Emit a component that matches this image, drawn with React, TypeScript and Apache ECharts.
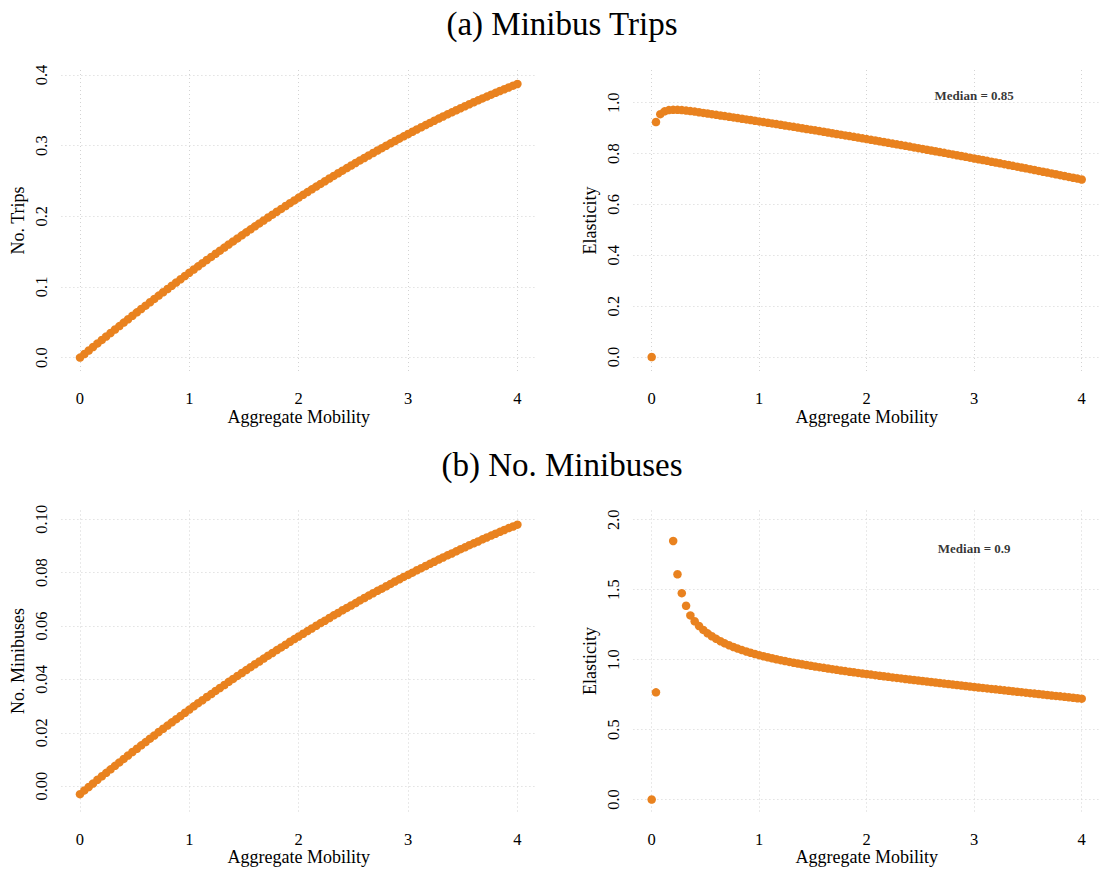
import React, { useEffect, useRef } from "react";
import * as echarts from "echarts";

// aggregate mobility grid (x axis of every panel)
const xValues = [
  0, 0.04, 0.08, 0.12, 0.16, 0.2, 0.24, 0.28, 0.32, 0.36,
  0.4, 0.44, 0.48, 0.52, 0.56, 0.6, 0.64, 0.68, 0.72, 0.76,
  0.8, 0.84, 0.88, 0.92, 0.96, 1.0, 1.04, 1.08, 1.12, 1.16,
  1.2, 1.24, 1.28, 1.32, 1.36, 1.4, 1.44, 1.48, 1.52, 1.56,
  1.6, 1.64, 1.68, 1.72, 1.76, 1.8, 1.84, 1.88, 1.92, 1.96,
  2.0, 2.04, 2.08, 2.12, 2.16, 2.2, 2.24, 2.28, 2.32, 2.36,
  2.4, 2.44, 2.48, 2.52, 2.56, 2.6, 2.64, 2.68, 2.72, 2.76,
  2.8, 2.84, 2.88, 2.92, 2.96, 3.0, 3.04, 3.08, 3.12, 3.16,
  3.2, 3.24, 3.28, 3.32, 3.36, 3.4, 3.44, 3.48, 3.52, 3.56,
  3.6, 3.64, 3.68, 3.72, 3.76, 3.8, 3.84, 3.88, 3.92, 3.96,
  4.0,
];

// (a) left: number of trips
const tripsValues = [
  0, 0.005, 0.01, 0.015, 0.02, 0.025, 0.0299, 0.0348, 0.0397, 0.0446,
  0.0495, 0.0543, 0.0592, 0.064, 0.0688, 0.0735, 0.0783, 0.083, 0.0877, 0.0924,
  0.097, 0.1017, 0.1063, 0.1109, 0.1155, 0.1201, 0.1246, 0.1291, 0.1336, 0.1381,
  0.1425, 0.1469, 0.1513, 0.1557, 0.1601, 0.1644, 0.1687, 0.173, 0.1772, 0.1815,
  0.1857, 0.1899, 0.194, 0.1982, 0.2023, 0.2064, 0.2104, 0.2145, 0.2185, 0.2224,
  0.2264, 0.2303, 0.2342, 0.2381, 0.242, 0.2458, 0.2496, 0.2534, 0.2571, 0.2608,
  0.2645, 0.2682, 0.2718, 0.2754, 0.279, 0.2825, 0.286, 0.2895, 0.293, 0.2964,
  0.2998, 0.3032, 0.3065, 0.3098, 0.3131, 0.3164, 0.3196, 0.3228, 0.3259, 0.329,
  0.3321, 0.3352, 0.3382, 0.3412, 0.3442, 0.3471, 0.35, 0.3529, 0.3557, 0.3586,
  0.3613, 0.3641, 0.3668, 0.3694, 0.3721, 0.3747, 0.3773, 0.3798, 0.3823, 0.3848,
  0.3872,
];

// (a) right: elasticity of trips
const tripsElasticity = [
  0, 0.924, 0.955, 0.966, 0.971, 0.972, 0.972, 0.971, 0.969, 0.967,
  0.965, 0.9625, 0.96, 0.9575, 0.955, 0.9524, 0.9499, 0.9473, 0.9448, 0.9422,
  0.9396, 0.937, 0.9344, 0.9318, 0.9291, 0.9265, 0.9238, 0.9212, 0.9185, 0.9158,
  0.9131, 0.9104, 0.9077, 0.905, 0.9022, 0.8995, 0.8967, 0.894, 0.8912, 0.8884,
  0.8856, 0.8828, 0.88, 0.8771, 0.8743, 0.8714, 0.8686, 0.8657, 0.8628, 0.8599,
  0.857, 0.8541, 0.8512, 0.8482, 0.8453, 0.8423, 0.8393, 0.8363, 0.8334, 0.8303,
  0.8273, 0.8243, 0.8213, 0.8182, 0.8152, 0.8121, 0.809, 0.8059, 0.8028, 0.7997,
  0.7966, 0.7935, 0.7903, 0.7872, 0.784, 0.7808, 0.7777, 0.7745, 0.7713, 0.768,
  0.7648, 0.7616, 0.7583, 0.7551, 0.7518, 0.7485, 0.7452, 0.7419, 0.7386, 0.7353,
  0.7319, 0.7286, 0.7252, 0.7219, 0.7185, 0.7151, 0.7117, 0.7083, 0.7049, 0.7015,
  0.698,
];

// (b) left: number of minibuses
const minibusValues = [
  -0.003, -0.0016, -0.0003, 0.001, 0.0024, 0.0037, 0.005, 0.0063, 0.0076, 0.0089,
  0.0102, 0.0115, 0.0128, 0.014, 0.0153, 0.0165, 0.0178, 0.019, 0.0203, 0.0215,
  0.0227, 0.0239, 0.0251, 0.0263, 0.0275, 0.0287, 0.0299, 0.0311, 0.0322, 0.0334,
  0.0345, 0.0357, 0.0368, 0.0379, 0.0391, 0.0402, 0.0413, 0.0424, 0.0435, 0.0446,
  0.0457, 0.0467, 0.0478, 0.0489, 0.0499, 0.051, 0.052, 0.053, 0.0541, 0.0551,
  0.0561, 0.0571, 0.0581, 0.0591, 0.0601, 0.0611, 0.062, 0.063, 0.064, 0.0649,
  0.0659, 0.0668, 0.0677, 0.0686, 0.0696, 0.0705, 0.0714, 0.0723, 0.0732, 0.074,
  0.0749, 0.0758, 0.0767, 0.0775, 0.0784, 0.0792, 0.08, 0.0809, 0.0817, 0.0825,
  0.0833, 0.0841, 0.0849, 0.0857, 0.0865, 0.0872, 0.088, 0.0888, 0.0895, 0.0903,
  0.091, 0.0917, 0.0925, 0.0932, 0.0939, 0.0946, 0.0953, 0.096, 0.0967, 0.0973,
  0.098,
];

// (b) right: elasticity of minibuses (null = not drawn in the figure)
const minibusElasticity = [
  0, 0.766, null, null, null, 1.848, 1.61, 1.475, 1.385, 1.316,
  1.274, 1.2407, 1.2125, 1.1882, 1.1671, 1.1484, 1.1317, 1.1167, 1.103, 1.0905,
  1.079, 1.0683, 1.0584, 1.049, 1.0403, 1.032, 1.0242, 1.0167, 1.0096, 1.0027,
  0.9962, 0.9899, 0.9838, 0.9779, 0.9722, 0.9667, 0.9613, 0.9561, 0.951, 0.946,
  0.9412, 0.9364, 0.9317, 0.9271, 0.9226, 0.9182, 0.9138, 0.9095, 0.9053, 0.9011,
  0.897, 0.8929, 0.8889, 0.8849, 0.881, 0.8771, 0.8732, 0.8694, 0.8656, 0.8618,
  0.8581, 0.8544, 0.8507, 0.847, 0.8434, 0.8398, 0.8362, 0.8326, 0.829, 0.8255,
  0.822, 0.8185, 0.815, 0.8115, 0.808, 0.8046, 0.8012, 0.7977, 0.7943, 0.7909,
  0.7875, 0.7841, 0.7807, 0.7774, 0.774, 0.7707, 0.7673, 0.764, 0.7606, 0.7573,
  0.754, 0.7507, 0.7474, 0.744, 0.7407, 0.7374, 0.7341, 0.7309, 0.7276, 0.7243,
  0.721,
];

const panelTitles = ["(a) Minibus Trips", "(b) No. Minibuses"];
const xAxisName = "Aggregate Mobility";
const yAxisNames = ["No. Trips", "Elasticity", "No. Minibuses", "Elasticity"];
const yDecimals = [1, 1, 2, 1];
const yTickSteps = [0.1, 0.2, 0.02, 0.5];
const medianTexts = ["Median = 0.85", "Median = 0.9"];
const medianPositions = [
  [3, 1.028],
  [3, 1.796],
];

const FONT = "'Liberation Serif', 'Times New Roman', serif";
const ORANGE = "#E9821F";
const GRID_COLOR = "#d3d3d3";

// panel boxes in pixels, and axis ranges with ggplot-like padding
const grids = [
  { left: 61.4, top: 70, width: 474.6, height: 301 },
  { left: 633.4, top: 70, width: 474.6, height: 301 },
  { left: 61.4, top: 510.5, width: 474.6, height: 301 },
  { left: 633.4, top: 510.5, width: 474.6, height: 301 },
];
const xRange = [-0.17, 4.17];
const yRanges = [
  [-0.019, 0.407],
  [-0.055, 1.1286],
  [-0.0095, 0.1033],
  [-0.0855, 2.066],
];

const panelSeries = [tripsValues, tripsElasticity, minibusValues, minibusElasticity];

const onStep = (v: number, step: number) =>
  Math.abs(v / step - Math.round(v / step)) < 1e-6;

const App = () => {
  const chartRef = useRef<HTMLDivElement>(null);

  useEffect(() => {
    if (!chartRef.current) return;
    const chart = echarts.init(chartRef.current, null, { renderer: "svg" });

    const splitLine = {
      show: true,
      showMinLine: false,
      showMaxLine: false,
      lineStyle: { color: GRID_COLOR, type: [1, 3], width: 1 },
    };

    const options = {
      animation: false,
      backgroundColor: "#ffffff",
      grid: grids,
      xAxis: grids.map((_, i) => ({
        type: "value",
        gridIndex: i,
        min: xRange[0],
        max: xRange[1],
        name: xAxisName,
        nameLocation: "middle",
        nameGap: 35,
        nameTextStyle: { fontFamily: FONT, fontSize: 18, color: "#000" },
        axisLine: { show: false },
        axisTick: { show: false },
        axisLabel: {
          fontFamily: FONT,
          fontSize: 16.5,
          color: "#000",
          margin: 19,
          showMinLabel: false,
          showMaxLabel: false,
          formatter: (v: number) => (onStep(v, 1) ? String(Math.round(v)) : ""),
        },
        splitLine,
      })),
      yAxis: grids.map((_, i) => ({
        type: "value",
        gridIndex: i,
        min: yRanges[i][0],
        max: yRanges[i][1],
        name: yAxisNames[i],
        nameLocation: "middle",
        nameGap: 34,
        nameTextStyle: { fontFamily: FONT, fontSize: 18, color: "#000" },
        axisLine: { show: false },
        axisTick: { show: false },
        axisLabel: {
          fontFamily: FONT,
          fontSize: 16.5,
          color: "#000",
          rotate: 90,
          margin: 11,
          showMinLabel: false,
          showMaxLabel: false,
          formatter: (v: number) =>
            onStep(v, yTickSteps[i]) ? v.toFixed(yDecimals[i]) : "",
        },
        splitLine,
      })),
      graphic: panelTitles.map((t, i) => ({
        type: "text",
        x: 562,
        y: i === 0 ? 23.5 : 465,
        style: {
          text: t,
          fontFamily: FONT,
          fontSize: 33,
          fill: "#000",
          align: "center",
          verticalAlign: "middle",
        },
      })),
      series: [
        ...panelSeries.map((ys, i) => ({
          type: "scatter",
          xAxisIndex: i,
          yAxisIndex: i,
          symbolSize: 8.5,
          itemStyle: { color: ORANGE, opacity: 1 },
          data: xValues
            .map((x, k) => [x, ys[k]])
            .filter((p) => p[1] !== null && p[1] !== undefined),
        })),
        ...medianTexts.map((t, i) => ({
          type: "scatter",
          xAxisIndex: i * 2 + 1,
          yAxisIndex: i * 2 + 1,
          symbolSize: 0,
          silent: true,
          data: [medianPositions[i]],
          label: {
            show: true,
            position: "inside",
            formatter: t,
            fontFamily: FONT,
            fontSize: 13,
            fontWeight: "bold",
            color: "#000",
          },
        })),
      ],
    };

    chart.setOption(options);

    const handleResize = () => chart.resize();
    window.addEventListener("resize", handleResize);

    return () => {
      window.removeEventListener("resize", handleResize);
      chart.dispose();
    };
  }, []);

  return (
    <div
      ref={chartRef}
      style={{ position: "fixed", left: 0, top: 0, width: "1100px", height: "872px", background: "#fff" }}
    />
  );
};

export default App;
